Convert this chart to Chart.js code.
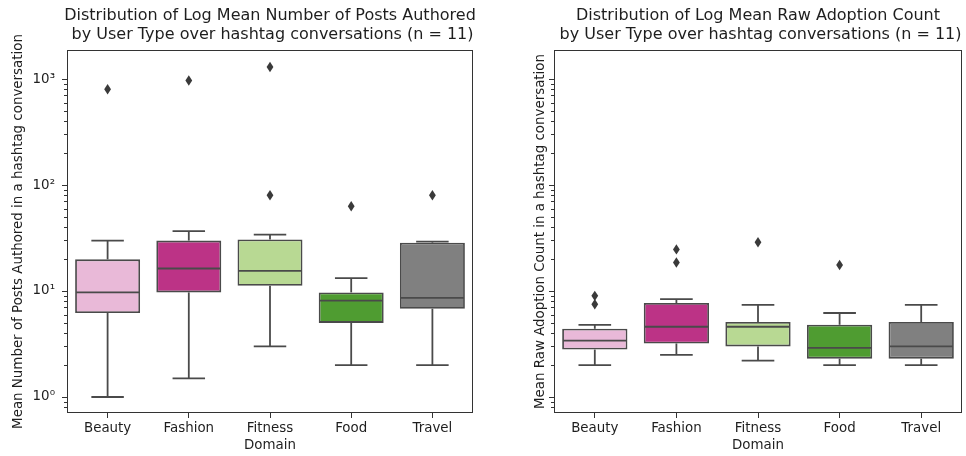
<!DOCTYPE html>
<html>
<head>
<meta charset="utf-8">
<script src="https://cdn.jsdelivr.net/npm/chart.js@4"></script>
<style>
  html, body { margin: 0; padding: 0; background: #fff; }
  #wrap { position: relative; width: 966px; height: 456px; }
  .panel { position: absolute; top: 0; width: 483px; height: 456px; }
</style>
</head>
<body>
<div id="wrap">
  <div class="panel" style="left:0"><canvas id="posts"></canvas></div>
  <div class="panel" style="left:483px"><canvas id="adopt"></canvas></div>
</div>
<script>
// Categories and fill colours for each domain box
const domains = ['Beauty', 'Fashion', 'Fitness', 'Food', 'Travel'];
const boxColors = ['#e9b9d8', '#bc3386', '#b8d993', '#4f9c31', '#808080'];

// Mean number of posts authored: whisker ends, quartiles, median, outliers
const postsLow     = [1.0, 1.5, 3.0, 2.0, 2.0];
const postsQ1      = [6.2, 9.7, 11.2, 5.0, 6.8];
const postsMedian  = [9.7, 16.3, 15.5, 8.1, 8.6];
const postsQ3      = [19.9, 29.9, 30.7, 9.7, 28.6];
const postsHigh    = [29.9, 36.8, 34.0, 13.2, 29.2];
const postsOutliers = [[800], [970], [1300, 80], [63], [80]];

// Mean raw adoption count: whisker ends, quartiles, median, outliers
const adoptLow     = [2.0, 2.5, 2.2, 2.0, 2.0];
const adoptQ1      = [2.8, 3.2, 3.0, 2.3, 2.3];
const adoptMedian  = [3.4, 4.6, 4.6, 2.9, 3.0];
const adoptQ3      = [4.4, 7.7, 5.1, 4.8, 5.1];
const adoptHigh    = [4.8, 8.4, 7.4, 6.2, 7.4];
const adoptOutliers = [[9.0, 7.5], [24.7, 18.6], [28.8], [17.6], []];

// Shared log axis range and decade labels
const yMin = 0.706;
const yMax = 1880;
const decadeLabels = { '1': '10\u2070', '10': '10\u00b9', '100': '10\u00b2', '1000': '10\u00b3' };

const FONT = 'DejaVu Sans';
const AXIS_FONT = 13.4;
const LINE = '#4a4a4a';
const AXIS = '#333333';
const TEXT = '#1e1e1e';

// Whiskers, caps, medians and outlier diamonds drawn on top of the quartile bars
const boxParts = {
  id: 'boxParts',
  afterDatasetsDraw(chart, args, opts) {
    const ctx = chart.ctx;
    const y = chart.scales.y;
    const meta = chart.getDatasetMeta(0);
    const s = opts.stats;
    const seg = (x1, y1, x2, y2) => { ctx.beginPath(); ctx.moveTo(x1, y1); ctx.lineTo(x2, y2); ctx.stroke(); };
    ctx.save();
    ctx.strokeStyle = LINE;
    ctx.lineWidth = 1.8;
    meta.data.forEach((bar, i) => {
      const x = bar.x;
      const hw = bar.width / 2;
      const pLow = y.getPixelForValue(s.low[i]);
      const pQ1 = y.getPixelForValue(s.q1[i]);
      const pMed = y.getPixelForValue(s.median[i]);
      const pQ3 = y.getPixelForValue(s.q3[i]);
      const pHigh = y.getPixelForValue(s.high[i]);
      seg(x, pQ1, x, pLow);
      seg(x, pQ3, x, pHigh);
      seg(x - hw / 2, pLow, x + hw / 2, pLow);
      seg(x - hw / 2, pHigh, x + hw / 2, pHigh);
      seg(x - hw + 1, pMed, x + hw - 1, pMed);
      ctx.fillStyle = '#3a3a3a';
      s.outliers[i].forEach(v => {
        const py = y.getPixelForValue(v);
        ctx.beginPath();
        ctx.moveTo(x, py - 5.2);
        ctx.lineTo(x + 3.4, py);
        ctx.lineTo(x, py + 5.2);
        ctx.lineTo(x - 3.4, py);
        ctx.closePath();
        ctx.fill();
      });
    });
    ctx.restore();
  }
};

// Axes frame, log tick marks and the two-line panel title
const frame = {
  id: 'frame',
  afterDraw(chart, args, opts) {
    const ctx = chart.ctx;
    const a = chart.chartArea;
    const y = chart.scales.y;
    ctx.save();
    ctx.strokeStyle = AXIS;
    ctx.lineWidth = 1;
    y.ticks.forEach(t => {
      const py = Math.round(y.getPixelForValue(t.value)) + 0.5;
      const len = t.major ? 5 : 3;
      ctx.beginPath();
      ctx.moveTo(a.left - len, py);
      ctx.lineTo(a.left, py);
      ctx.stroke();
    });
    ctx.strokeRect(Math.round(a.left) + 0.5, Math.round(a.top) + 0.5,
                   Math.round(a.right - a.left) - 1, Math.round(a.bottom - a.top) - 1);
    ctx.fillStyle = TEXT;
    ctx.font = '16px "' + FONT + '"';
    ctx.textAlign = 'center';
    ctx.textBaseline = 'middle';
    const cx = (a.left + a.right) / 2;
    ctx.fillText(opts.lines[0], cx, 16);
    ctx.fillText(opts.lines[1], cx, 35);
    ctx.restore();
  }
};

function logTicks(axis) {
  const ticks = [];
  for (let e = -1; e <= 3; e++) {
    for (let m = 1; m <= 9; m++) {
      const v = +(m * Math.pow(10, e)).toPrecision(6);
      if (v >= yMin && v <= yMax) ticks.push({ value: v, major: m === 1 });
    }
  }
  axis.ticks = ticks;
}

function makeChart(id, cfg) {
  const stats = { low: cfg.low, q1: cfg.q1, median: cfg.median, q3: cfg.q3, high: cfg.high, outliers: cfg.outliers };
  return new Chart(document.getElementById(id), {
    type: 'bar',
    data: {
      labels: domains,
      datasets: [{
        data: domains.map((d, i) => [cfg.q1[i], cfg.q3[i]]),
        backgroundColor: boxColors,
        borderColor: LINE,
        borderWidth: 1.8,
        borderSkipped: false,
        barPercentage: 0.8,
        categoryPercentage: 1.0
      }]
    },
    options: {
      responsive: true,
      maintainAspectRatio: false,
      animation: false,
      layout: { padding: cfg.padding },
      plugins: {
        legend: { display: false },
        tooltip: { enabled: false },
        title: { display: false },
        boxParts: { stats },
        frame: { lines: cfg.title }
      },
      scales: {
        x: {
          type: 'category',
          offset: true,
          border: { display: false },
          grid: { display: true, drawOnChartArea: false, drawTicks: true, tickLength: 5, offset: false, color: AXIS, tickColor: AXIS },
          ticks: { color: TEXT, font: { family: FONT, size: AXIS_FONT }, padding: 2.5, maxRotation: 0 },
          title: { display: true, text: 'Domain', color: TEXT, font: { family: FONT, size: AXIS_FONT }, padding: { top: 0, bottom: 2 } },
          afterFit(scale) { scale.height = 43; }
        },
        y: {
          type: 'logarithmic',
          min: yMin,
          max: yMax,
          bounds: 'data',
          border: { display: false },
          grid: { display: false },
          afterBuildTicks: logTicks,
          ticks: {
            display: cfg.showLabels,
            autoSkip: false,
            padding: 4,
            color: TEXT,
            font: { family: FONT, size: AXIS_FONT },
            callback: v => decadeLabels[String(v)] || ''
          },
          title: { display: true, text: cfg.yTitle, color: TEXT, font: { family: FONT, size: AXIS_FONT }, padding: { top: 2, bottom: 0 } },
          afterFit(scale) { scale.width = cfg.yWidth; }
        }
      }
    },
    plugins: [boxParts, frame]
  });
}

makeChart('posts', {
  low: postsLow, q1: postsQ1, median: postsMedian, q3: postsQ3, high: postsHigh, outliers: postsOutliers,
  title: ['Distribution of Log Mean Number of Posts Authored', ' by User Type over hashtag conversations (n = 11)'],
  yTitle: 'Mean Number of Posts Authored in a hashtag conversation',
  showLabels: true,
  yWidth: 59,
  padding: { top: 50, left: 8, right: 10, bottom: 0 }
});

makeChart('adopt', {
  low: adoptLow, q1: adoptQ1, median: adoptMedian, q3: adoptQ3, high: adoptHigh, outliers: adoptOutliers,
  title: ['Distribution of Log Mean Raw Adoption Count', ' by User Type over hashtag conversations (n = 11)'],
  yTitle: 'Mean Raw Adoption Count in a hashtag conversation',
  showLabels: false,
  yWidth: 24,
  padding: { top: 50, left: 47, right: 4, bottom: 0 }
});
</script>
</body>
</html>
